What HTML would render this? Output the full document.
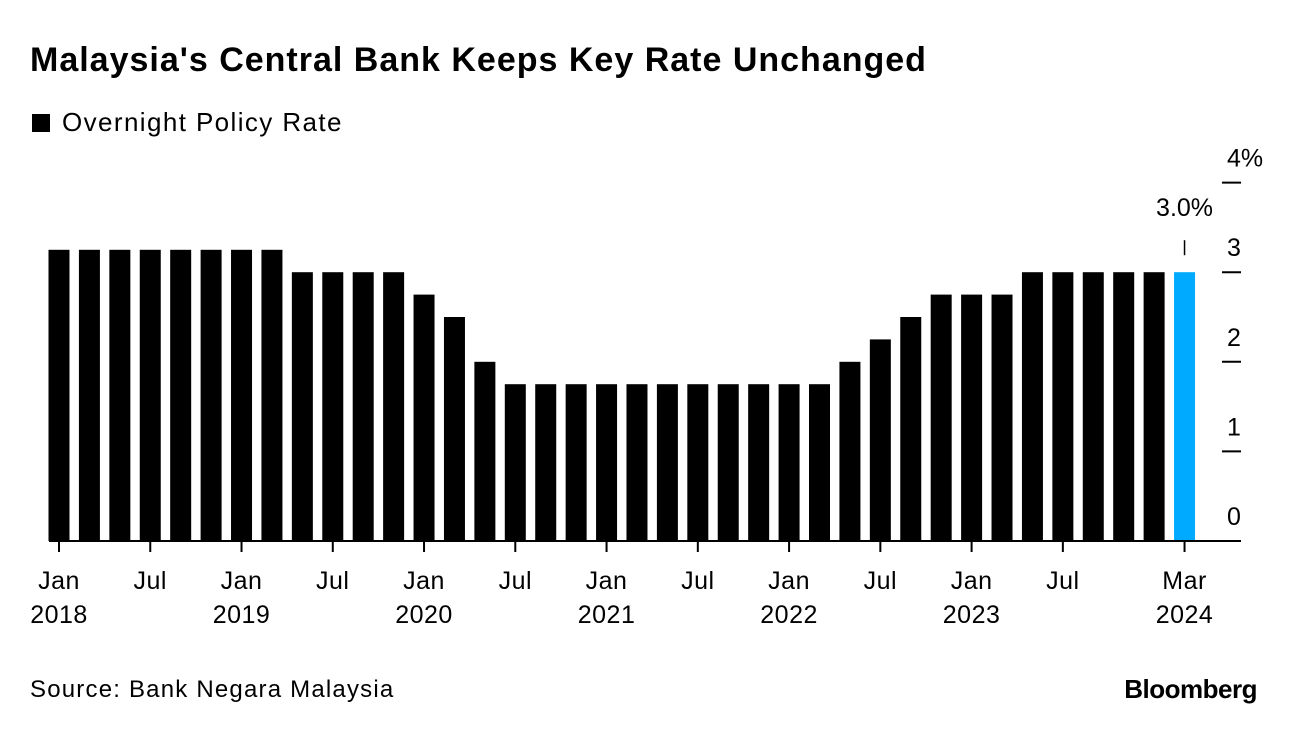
<!DOCTYPE html>
<html><head><meta charset="utf-8"><style>
body{margin:0;width:1296px;height:732px;background:#fff;font-family:"Liberation Sans",Arial,sans-serif;overflow:hidden;position:relative}
.t{position:absolute;white-space:nowrap;color:#000}
</style></head><body>
<div class="t" style="left:30px;top:41px;font-size:34px;font-weight:bold;letter-spacing:1px">Malaysia's Central Bank Keeps Key Rate Unchanged</div>
<div class="t" style="left:32px;top:107px;font-size:26px;letter-spacing:1.4px"><span style="display:inline-block;width:18px;height:18px;background:#000;margin-right:12px;vertical-align:-1px"></span>Overnight Policy Rate</div>
<svg id="chart" width="1296" height="732" style="position:absolute;left:0;top:0"></svg>
<div class="t" style="left:30px;top:676px;font-size:24px;letter-spacing:1.2px">Source: Bank Negara Malaysia</div>
<div class="t" style="right:39px;top:674px;font-size:26px;font-weight:bold;letter-spacing:-0.5px">Bloomberg</div>
<script>
const values=[3.25,3.25,3.25,3.25,3.25,3.25,3.25,3.25,3.0,3.0,3.0,3.0,2.75,2.5,2.0,1.75,1.75,1.75,1.75,1.75,1.75,1.75,1.75,1.75,1.75,1.75,2.0,2.25,2.5,2.75,2.75,2.75,3.0,3.0,3.0,3.0,3.0,3.0];
const tickIdx=[0,3,6,9,12,15,18,21,24,27,30,33,37];
const tickMonths=["Jan","Jul","Jan","Jul","Jan","Jul","Jan","Jul","Jan","Jul","Jan","Jul","Mar"];
const tickYears=["2018","","2019","","2020","","2021","","2022","","2023","","2024"];
const yTicks=[0,1,2,3,4];
const yLabels=["0","1","2","3","4%"];
const NS="http://www.w3.org/2000/svg";
const svg=document.getElementById('chart');
const x0=59,step=30.42,bw=21;
const xs=i=>x0+i*step;
const ys=v=>541-v*89.6;
function mk(t,a){const e=document.createElementNS(NS,t);for(const k in a)e.setAttribute(k,a[k]);svg.appendChild(e);return e;}
values.forEach((v,i)=>{
 const r=mk('rect',{x:xs(i)-bw/2,y:ys(v),width:bw,height:541-ys(v),fill:i===values.length-1?'#00aaff':'#000'});
 
 
});
yTicks.forEach((v,i)=>{
 if(v>0){const l=mk('line',{x1:1222,x2:1241,y1:ys(v),y2:ys(v),stroke:'#000','stroke-width':2});
 
 }
 const t=mk('text',{x:1227,y:ys(v)-16,'text-anchor':'start','font-size':25,'font-family':'Liberation Sans, Arial, sans-serif'});
 t.textContent=yLabels[i];
 
 
});
const base=mk('line',{x1:49,x2:1241,y1:541,y2:541,stroke:'#000','stroke-width':2});


tickIdx.forEach((idx,i)=>{
 const x=xs(idx);
 const l=mk('line',{x1:x,x2:x,y1:541,y2:552,stroke:'#000','stroke-width':2});
 
 
 const t=mk('text',{x:x,y:589,'text-anchor':'middle','font-size':25,'letter-spacing':'0.5','font-family':'Liberation Sans, Arial, sans-serif'});
 t.textContent=tickMonths[i];
 
 
 if(tickYears[i]){const y=mk('text',{x:x,y:623,'text-anchor':'middle','font-size':25,'letter-spacing':'0.5','font-family':'Liberation Sans, Arial, sans-serif'});
 y.textContent=tickYears[i];
 
 }
});
const li=values.length-1,lx=xs(li);
const al=mk('line',{x1:lx,x2:lx,y1:ys(values[li])-32,y2:ys(values[li])-17,stroke:'#000','stroke-width':1.5});


const at=mk('text',{x:lx,y:ys(values[li])-56,'text-anchor':'middle','font-size':25,'font-family':'Liberation Sans, Arial, sans-serif'});
at.textContent=values[li].toFixed(1)+'%';


</script>
</body></html>
